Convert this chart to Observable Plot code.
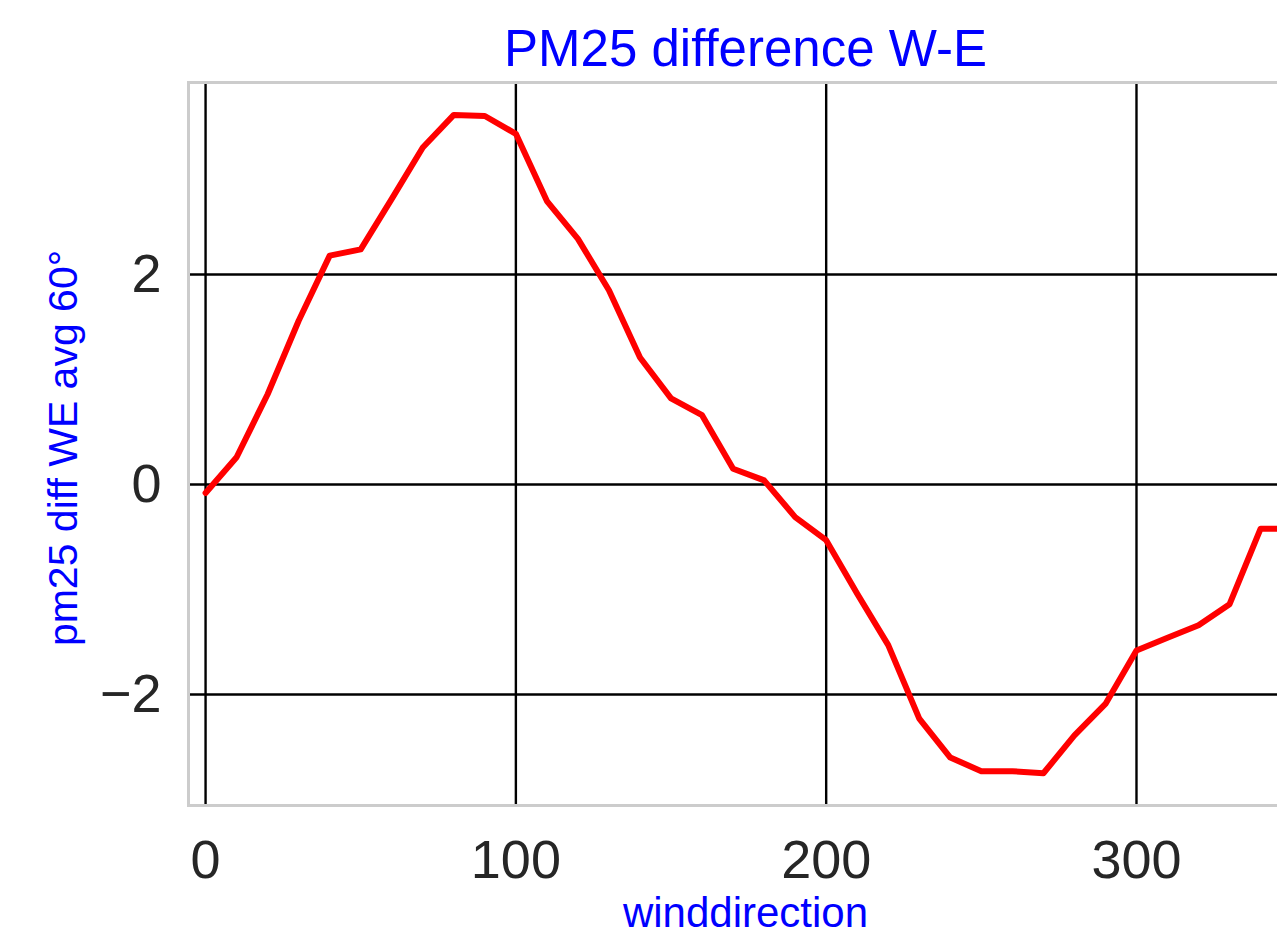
<!DOCTYPE html>
<html>
<head>
<meta charset="utf-8">
<script src="https://cdn.jsdelivr.net/npm/d3@7"></script>
<script src="https://cdn.jsdelivr.net/npm/@observablehq/plot@0.6"></script>
<style>
  html, body { margin: 0; padding: 0; background: #fff; overflow: hidden; width: 1277px; height: 934px; }
  #chart { width: 1277px; height: 934px; overflow: hidden; }
  #chart svg { display: block; max-width: none !important; }
</style>
</head>
<body>
<div id="chart"></div>
<script>
const title = "PM25 difference W-E";
const xLabel = "winddirection";
const yLabel = "pm25 diff WE avg 60°";
const winddirection = [0, 10, 20, 30, 40, 50, 60, 70, 80, 90, 100, 110, 120, 130, 140, 150, 160, 170,
  180, 190, 200, 210, 220, 230, 240, 250, 260, 270, 280, 290, 300, 310, 320, 330, 340, 350];
const pm25diff = [-0.08, 0.26, 0.86, 1.56, 2.18, 2.24, 2.72, 3.21, 3.52, 3.51, 3.34, 2.70, 2.34, 1.85,
  1.21, 0.82, 0.66, 0.15, 0.04, -0.31, -0.53, -1.04, -1.53, -2.23, -2.60, -2.73, -2.73, -2.75,
  -2.39, -2.09, -1.58, -1.46, -1.34, -1.14, -0.42, -0.42];
const xTicks = [0, 100, 200, 300];
const yTicks = [-2, 0, 2];

const data = winddirection.map((w, i) => ({w, v: pm25diff[i]}));
const fmt = d3.format("d");

const plot = Plot.plot({
  width: 1310,
  height: 934,
  marginLeft: 188,
  marginRight: 8,
  marginTop: 82,
  marginBottom: 129,
  style: {fontFamily: "'Liberation Sans', Arial, sans-serif", background: "#fff", maxWidth: "none"},
  x: {domain: [-5.5, 353.5]},
  y: {domain: [-3.057, 3.829]},
  marks: [
    Plot.gridX(xTicks, {stroke: "#000", strokeOpacity: 1, strokeWidth: 2.4}),
    Plot.gridY(yTicks, {stroke: "#000", strokeOpacity: 1, strokeWidth: 2.4}),
    Plot.frame({stroke: "#cccccc", strokeWidth: 3}),
    Plot.axisX(xTicks, {tickSize: 0, tickPadding: 34, fontSize: 54, color: "#262626", tickFormat: fmt, label: null}),
    Plot.axisY(yTicks, {tickSize: 0, tickPadding: 27, fontSize: 54, color: "#262626", tickFormat: fmt, label: null}),
    Plot.line(data, {x: "w", y: "v", stroke: "#ff0000", strokeWidth: 6, strokeLinejoin: "round"}),
    Plot.text([title], {frameAnchor: "top", dy: -17, lineAnchor: "bottom", fontSize: 51, fill: "#0000ff"}),
    Plot.text([xLabel], {frameAnchor: "bottom", dy: 121, lineAnchor: "bottom", fontSize: 42, fill: "#0000ff"}),
    Plot.text([yLabel], {frameAnchor: "left", textAnchor: "middle", dx: -125, dy: 4, rotate: -90, fontSize: 41, fill: "#0000ff"})
  ]
});
document.getElementById("chart").appendChild(plot);
</script>
</body>
</html>
